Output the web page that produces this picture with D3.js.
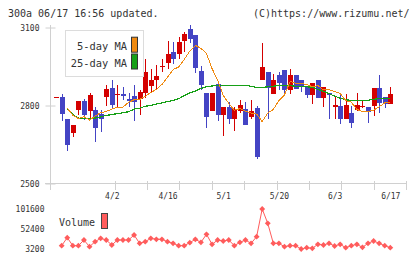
<!DOCTYPE html>
<html>
<head>
<meta charset="utf-8">
<script src="https://cdn.jsdelivr.net/npm/d3@7"></script>
<style>
  body { margin: 0; background: #fff; }
  svg { display: block; font-family: "DejaVu Sans Mono", monospace; }
</style>
</head>
<body>
<svg id="chart" width="420" height="259"></svg>
<script>
// trading days shown on the chart
let dates = ['3/18','3/19','3/21','3/22','3/25','3/26','3/27','3/28','3/29','4/1',
  '4/2','4/3','4/4','4/5','4/8','4/9','4/10','4/11','4/12','4/15',
  '4/16','4/17','4/18','4/19','4/22','4/23','4/24','4/25','4/26','4/30',
  '5/1','5/2','5/7','5/8','5/9','5/10','5/13','5/14','5/15','5/16',
  '5/20','5/21','5/22','5/23','5/24','5/27','5/28','5/29','5/30','5/31',
  '6/3','6/4','6/5','6/6','6/7','6/10','6/11','6/12','6/13','6/14','6/17']

let openV  = [2829,2833,2747,2695,2784,2817,2778,2781,2766,2833,2867,2842,2846,2824,2837,2826,2849,2875,2897,2947,
  2962,3006,2997,3047,3096,3070,2931,2848,2779,2884,2765,2794,2747,2779,2785,2756,2790,2899,2929,2846,
  2919,2935,2861,2919,2897,2871,2839,2897,2830,2848,2794,2798,2749,2771,2784,2794,2794,2797,2867,2833,2807]
let highV  = [2832,2845,2747,2726,2816,2826,2848,2794,2781,2878,2897,2878,2871,2848,2878,2858,2978,2942,2954,2978,
  3050,3044,3064,3083,3108,3070,2952,2848,2848,2884,2794,2813,2794,2822,2813,2822,2798,3040,2929,2922,
  2929,2935,2942,2919,2897,2871,2887,2897,2871,2848,2837,2846,2846,2798,2848,2820,2794,2867,2919,2833,2871]
let lowV   = [2828,2739,2624,2679,2762,2743,2743,2660,2698,2798,2785,2794,2820,2794,2739,2765,2829,2849,2858,2929,
  2940,2961,2980,3006,3042,2926,2858,2713,2779,2740,2683,2730,2702,2772,2726,2749,2593,2899,2747,2846,
  2858,2839,2846,2865,2852,2829,2807,2830,2794,2749,2749,2730,2749,2713,2778,2790,2734,2760,2772,2790,2807]
let closeV = [2831,2769,2647,2724,2816,2765,2842,2713,2747,2862,2803,2846,2837,2817,2813,2852,2929,2899,2913,2951,
  2998,2980,3044,3074,3057,2946,2878,2756,2848,2765,2794,2747,2785,2801,2726,2778,2602,2948,2869,2897,
  2887,2861,2916,2865,2875,2842,2887,2830,2871,2842,2801,2749,2801,2734,2801,2798,2775,2867,2810,2807,2846]

let ma5 = [null,null,2790,2763,2750,2757,2744,2759,2772,2777,2786,2793,2794,2812,2822,2823,2835,2850,2862,2881,
  2909,2938,2948,2977,3009,3031,3020,3000,2942,2897,2839,2808,2782,2788,2778,2771,2767,2738,2771,2785,
  2819,2841,2892,2886,2885,2881,2872,2877,2860,2861,2854,2846,2819,2813,2785,2777,2777,2782,2795,2810,2811]
let ma25 = [null,null,2788,2765,2752,2749,2749,2752,2756,2762,2765,2769,2772,2776,2786,2790,2797,2800,2806,2810,
  2815,2819,2826,2838,2848,2856,2866,2872,2875,2877,2877,2876,2876,2878,2878,2874,2869,2869,2872,2874,
  2877,2878,2876,2874,2874,2872,2870,2862,2855,2846,2836,2828,2822,2820,2820,2820,2820,2824,2826,2827,2828]

let volume = [null,11400,31100,11400,11400,25300,8900,21200,29400,25300,13000,25300,25300,25300,37600,17100,21200,29400,27000,27000,
  21200,17100,11400,11400,18800,27000,19600,39300,14700,25300,22900,25300,11400,19600,25300,17100,33500,101600,66300,17100,
  17100,8900,11400,11400,3200,6500,4800,14700,13000,17100,10600,14700,6500,11400,14700,7300,17100,22900,17100,11400,6500]

let priceTicks = [2500, 2800, 3100]
let dateTicks = ['4/2', '4/16', '5/1', '5/20', '6/3', '6/17']
let volTicks = [3200, 52400, 101600]

let svg = d3.select('#chart')

let x = d3.scalePoint().domain(dates).range([56.1, 390.3])
let y = d3.scaleLinear().domain([2500, 3100]).range([183.5, 27.5])
let yVol = d3.scaleLinear().domain([3200, 101600]).range([249, 209])

let candles = dates.map((d, i) => ({
    date: d, open: openV[i], high: highV[i], low: lowV[i], close: closeV[i]
}))

// header
svg.append('text').attr('x', 8).attr('y', 16.7)
    .attr('font-size', 10).attr('fill', '#333')
    .text('300a 06/17 16:56 updated.')
svg.append('text').attr('x', 409.5).attr('y', 16.7)
    .attr('font-size', 10).attr('fill', '#333').attr('text-anchor', 'end')
    .text('(C)https://www.rizumu.net/')

// axes
let axisColor = '#d0d0d0'
svg.append('line').attr('x1', 50.5).attr('x2', 50.5).attr('y1', 25).attr('y2', 190)
    .attr('stroke', axisColor)
svg.append('line').attr('x1', 45).attr('x2', 406).attr('y1', 183.5).attr('y2', 183.5)
    .attr('stroke', axisColor)

let yAxis = svg.append('g')
    .attr('transform', 'translate(50.5,0)')
    .call(d3.axisLeft(y).tickValues(priceTicks).tickFormat(d3.format('d')).tickSize(5).tickPadding(6))
yAxis.select('.domain').remove()
yAxis.selectAll('line').attr('x1', 5).attr('stroke', axisColor)
yAxis.selectAll('text').attr('font-size', 8).attr('fill', '#333')
    .attr('font-family', 'DejaVu Sans Mono')

// vertical grid ticks on the time axis
let gridTicks = d3.range(2, 12).map(k => 50 + k * 356 / 11)
svg.selectAll('.xtick').data(gridTicks).enter().append('line')
    .attr('class', 'xtick')
    .attr('x1', d => Math.round(d) + 0.5).attr('x2', d => Math.round(d) + 0.5)
    .attr('y1', 181).attr('y2', 190)
    .attr('stroke', axisColor)

let xAxis = svg.append('g')
    .attr('transform', 'translate(0,192)')
    .call(d3.axisBottom(x).tickValues(dateTicks).tickSize(0).tickPadding(1))
xAxis.select('.domain').remove()
xAxis.selectAll('text').attr('font-size', 8).attr('fill', '#333')
    .attr('font-family', 'DejaVu Sans Mono')

// candles
let upColor = '#d40000'
let downColor = '#4444c4'
let candle = svg.append('g').selectAll('g').data(candles).enter().append('g')
    .attr('shape-rendering', 'crispEdges')
candle.append('line')
    .attr('x1', d => Math.round(x(d.date)) + 0.5)
    .attr('x2', d => Math.round(x(d.date)) + 0.5)
    .attr('y1', d => y(d.high)).attr('y2', d => y(d.low))
    .attr('stroke', d => d.close >= d.open ? upColor : downColor)
candle.append('rect')
    .attr('x', d => Math.round(x(d.date)) - 2)
    .attr('width', 5)
    .attr('y', d => y(Math.max(d.open, d.close)))
    .attr('height', d => Math.max(1, y(Math.min(d.open, d.close)) - y(Math.max(d.open, d.close))))
    .attr('fill', d => d.close >= d.open ? upColor : downColor)

// moving averages
let maLine = (vals) => d3.line()
    .defined((d, i) => vals[i] != null)
    .x((d, i) => x(dates[i]))
    .y((d, i) => y(vals[i]))(dates)

svg.append('path').attr('d', maLine(ma25))
    .attr('fill', 'none').attr('stroke', '#16a016').attr('stroke-width', 1.2)
    .attr('shape-rendering', 'crispEdges')
svg.append('path').attr('d', maLine(ma5))
    .attr('fill', 'none').attr('stroke', '#f08a10').attr('stroke-width', 1)
    .attr('shape-rendering', 'crispEdges')

// legend
let legend = svg.append('g')
legend.append('rect').attr('x', 65.5).attr('y', 30.5).attr('width', 78).attr('height', 46)
    .attr('fill', '#fff').attr('stroke', '#dcdcdc')
let legendItems = [['5-day MA', '#f08a10', 50.2], ['25-day MA', '#16a016', 67]]
legendItems.forEach(([label, color, base]) => {
    legend.append('text').attr('x', 127).attr('y', base)
        .attr('text-anchor', 'end').attr('font-size', 10.4).attr('fill', '#333')
        .text(label)
    legend.append('rect').attr('x', 131.5).attr('y', base - 13).attr('width', 6).attr('height', 15)
        .attr('fill', color).attr('stroke', '#333')
})

// volume
let volColor = '#ff5c5c'
let volPts = dates.map((d, i) => ({ date: d, v: volume[i] })).filter(d => d.v != null)
svg.append('path')
    .attr('d', d3.line().x(d => x(d.date)).y(d => yVol(d.v))(volPts))
    .attr('fill', 'none').attr('stroke', volColor).attr('stroke-width', 1)
svg.selectAll('.vol').data(volPts).enter().append('path')
    .attr('class', 'vol')
    .attr('transform', d => `translate(${x(d.date)},${yVol(d.v)})`)
    .attr('d', d3.symbol().type(d3.symbolDiamond2).size(22))
    .attr('fill', volColor)

svg.selectAll('.vlab').data(volTicks).enter().append('text')
    .attr('class', 'vlab')
    .attr('x', 44.5).attr('y', d => yVol(d) + 3)
    .attr('text-anchor', 'end').attr('font-size', 8).attr('fill', '#333')
    .text(d => d)

svg.append('text').attr('x', 59).attr('y', 225.5)
    .attr('font-size', 10).attr('fill', '#333').text('Volume')
svg.append('rect').attr('x', 101.5).attr('y', 213.5).attr('width', 6).attr('height', 15)
    .attr('fill', volColor).attr('stroke', '#444')
</script>
</body>
</html>
